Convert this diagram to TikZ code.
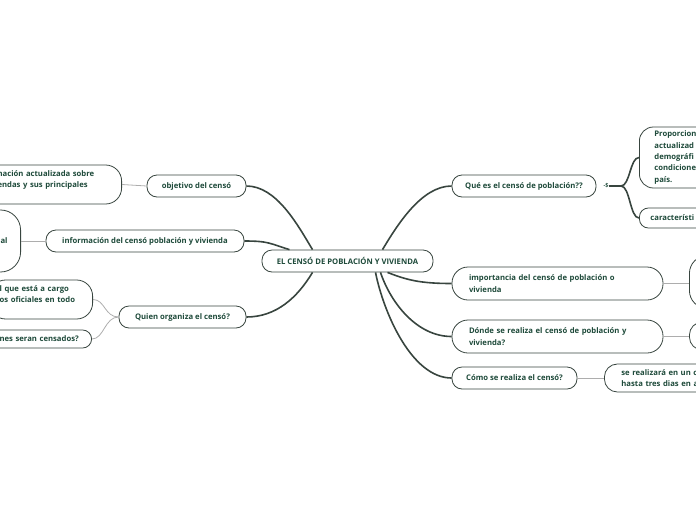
\documentclass[tikz,border=0pt]{standalone}
\usepackage{fontspec}
\setmainfont{Open Sans}
\definecolor{mapgreen}{HTML}{1E4A3A}
\definecolor{mapline}{HTML}{38453F}
\definecolor{mapthin}{HTML}{ADADAD}
\newcommand{\mapfont}{\fontsize{7.7}{11.3}\selectfont\bfseries}

\begin{document}
\begin{tikzpicture}[x=1pt,y=-1pt,
  topic/.style={draw=mapline,line width=0.8pt,rounded corners=10pt,fill=white,
    text=mapgreen,font=\mapfont,inner sep=0pt,minimum height=22pt},
  leaf/.style={topic,align=left},
  trunk/.style={mapline,line width=1.6pt},
  twig/.style={mapthin,line width=0.8pt}
]
  \useasboundingbox (0,0) rectangle (696,520);
  \clip (0,0) rectangle (696,520);

  \node[topic,minimum width=171pt] (root) at (347.5,261) {EL CENSÓ DE POBLACIÓN Y VIVIENDA};

  \node[topic,minimum width=144pt] (qes) at (524,186) {Qué es el censó de población??};
  \node[leaf,text width=177pt,inner xsep=17pt,minimum height=33pt,rounded corners=16pt] (imp) at (557.5,283.5)
    {importancia del censó de población o\\vivienda};
  \node[leaf,text width=177pt,inner xsep=17pt,minimum height=33pt,rounded corners=16pt] (donde) at (557.5,336.5)
    {Dónde se realiza el censó de población y\\vivienda?};
  \node[topic,minimum width=125pt] (como) at (514.5,378) {Cómo se realiza el censó?};

  \node[topic,minimum width=99pt] (obj) at (196.5,186) {objetivo del censó};
  \node[topic,minimum width=198pt] (info) at (145,241) {información del censó población y vivienda};
  \node[topic,minimum width=127pt] (quien) at (182.5,317) {Quien organiza el censó?};

  \node[font=\fontsize{5.5}{6}\selectfont\bfseries,text=mapgreen,inner sep=0pt] (qmark) at (606,186) {-\$};
  \coordinate (qfork) at (621,186);
  \node[leaf,anchor=west,text width=100pt,inner xsep=15pt,minimum height=61pt,rounded corners=14pt] (prop) at (639,157.5)
    {Proporcion\\actualizad\\demográfi\\condicione\\país.};
  \node[leaf,anchor=west,text width=100pt,inner xsep=11pt,minimum height=20pt,rounded corners=9pt] (carac) at (639,218)
    {característi};
  \node[leaf,anchor=west,minimum width=60pt,minimum height=53pt,rounded corners=18pt] (impR) at (689,282) {};
  \node[leaf,anchor=west,minimum width=60pt,minimum height=28pt,rounded corners=13pt] (dondeR) at (689,336) {};
  \node[leaf,anchor=west,text width=100pt,inner xsep=17pt,minimum height=28pt,rounded corners=13pt] (comoR) at (604,378)
    {se realizará en un c\\hasta tres dias en a};

  \node[leaf,anchor=east,text width=109pt,inner xsep=15pt,minimum height=39pt,rounded corners=16pt] (objL) at (122,184.5)
    {\mbox{nación actualizada sobre}\\\mbox{endas y sus principales}\\\mbox{}};
  \node[topic,align=right,anchor=east,text width=30pt,inner xsep=13pt,minimum height=62pt,rounded corners=20pt] (infoL) at (21,241)
    {al};
  \node[leaf,anchor=east,text width=83pt,inner xsep=10pt,minimum height=39pt,rounded corners=16pt] (quienL1) at (93,299.5)
    {\mbox{l que está a cargo}\\\mbox{os oficiales en todo}\\\mbox{}};
  \node[leaf,anchor=east,text width=82pt,inner xsep=10pt,minimum height=18pt,rounded corners=9pt] (quienL2) at (92,339)
    {\mbox{nes seran censados?}};

  \draw[trunk] (obj.east) .. controls +(30,0) and +(-15,-25) .. ([xshift=-35pt]root.north);
  \draw[trunk] (info.east) .. controls +(25,0) and +(-20,-6) .. ([xshift=-58pt]root.north);
  \draw[trunk] (quien.east) .. controls +(30,0) and +(-15,25) .. ([xshift=-35pt]root.south);
  \draw[trunk] (qes.west) .. controls +(-30,0) and +(15,-25) .. ([xshift=35pt]root.north);
  \draw[trunk] (imp.west) .. controls +(-30,0) and +(20,8) .. ([xshift=40pt]root.south);
  \draw[trunk] (donde.west) .. controls +(-35,0) and +(10,30) .. ([xshift=33pt]root.south);
  \draw[trunk] (como.west) .. controls +(-40,0) and +(8,40) .. ([xshift=28pt]root.south);

  \draw[trunk] (qmark.east) -- (qfork);
  \draw[trunk] (qfork) .. controls +(9,0) and +(-9,0) .. (prop.west);
  \draw[trunk] (qfork) .. controls +(9,0) and +(-9,0) .. (carac.west);

  \draw[twig] (objL.east) -- (obj.west);
  \draw[twig] (infoL.east) -- (info.west);
  \draw[twig] (quien.west) .. controls +(-14,0) and +(12,0) .. (quienL1.east);
  \draw[twig] (quien.west) .. controls +(-14,0) and +(12,0) .. (quienL2.east);
  \draw[twig] (imp.east) -- (imp.east -| impR.west);
  \draw[twig] (donde.east) -- (donde.east -| dondeR.west);
  \draw[twig] (como.east) -- (comoR.west);
\end{tikzpicture}
\end{document}
